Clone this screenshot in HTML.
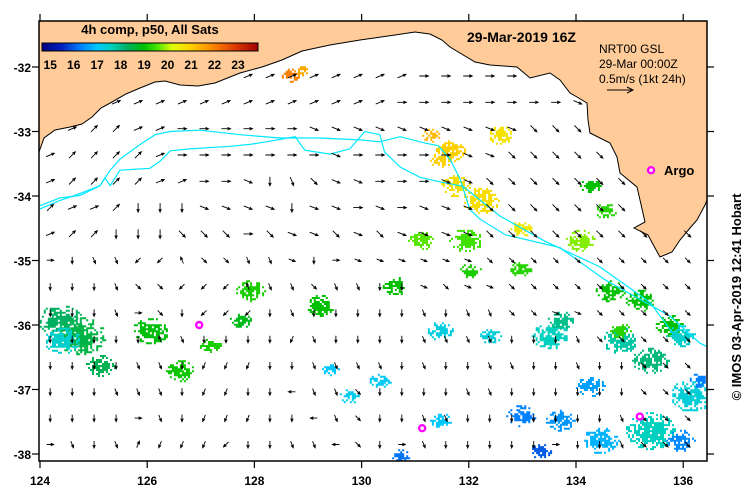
<!DOCTYPE html>
<html><head><meta charset="utf-8"><style>
html,body{margin:0;padding:0;background:#fff;}
svg{display:block;font-family:"Liberation Sans",sans-serif;}
</style></head><body>
<svg id="chart" width="749" height="496" viewBox="0 0 749 496">
<defs><clipPath id="plotclip"><rect x="39" y="21" width="668" height="440"/></clipPath></defs>
<rect x="0" y="0" width="749" height="496" fill="#fff"/>
<g clip-path="url(#plotclip)">
<g id="blobs"></g>
<path id="land" fill="#ffcc99" stroke="#000" stroke-width="1" d="M39,21 L39,152 L44,138 L55,130 L70,127 L82,124 L92,117 L101,108 L112,102 L126,94 L140,88 L155,82 L165,81 L180,85 L198,86 L215,83 L240,73 L262,67 L282,60 L302,51 L330,45 L360,40 L395,35 L415,32 L430,34 L442,40 L450,47 L475,62 L490,65 L517,67 L530,78 L550,73 L560,80 L570,93 L577,97 L587,103 L588,120 L590,133 L610,143 L617,157 L620,173 L637,187 L640,200 L645,222 L634,228 L648,235 L655,248 L660,257 L672,252 L680,240 L690,228 L697,220 L705,205 L707,200 L707,21 Z"/>
<g id="currents"></g>
<g id="arrows"></g>
<g id="markers"></g>
</g>
<rect x="39" y="21" width="668" height="440" fill="none" stroke="#000" stroke-width="1.5"/>
<g id="axes"></g>
<g id="colorbar"></g>
<text x="150" y="34" font-size="13" font-weight="bold" text-anchor="middle">4h comp, p50, All Sats</text>
<text x="467" y="42" font-size="14" font-weight="bold">29-Mar-2019 16Z</text>
<text x="599" y="53" font-size="12">NRT00 GSL</text>
<text x="599" y="68" font-size="12">29-Mar 00:00Z</text>
<text x="599" y="83" font-size="12">0.5m/s (1kt 24h)</text>
<g><line x1="607" y1="90" x2="633" y2="90" stroke="#000" stroke-width="1"/><polyline points="627,87 633,90 627,93" fill="none" stroke="#000"/></g>
<text x="664" y="175" font-size="13" font-weight="bold">Argo</text>
<text transform="translate(741,297) rotate(-90)" font-size="13" font-weight="bold" text-anchor="middle">© IMOS 03-Apr-2019 12:41 Hobart</text>
</svg>
<script>
var xTicks=[124,126,128,130,132,134,136];
var yTicks=[-32,-33,-34,-35,-36,-37,-38];
var cbTicks=[15,16,17,18,19,20,21,22,23];
var blobLon=[128.66,128.85,131.65,131.46,132.58,131.74,132.21,132.96,131.28,134.26,134.54,134.07,131.93,131.09,130.62,132.02,132.96,134.63,135.19,135.75,124.37,124.75,125.12,126.05,126.61,127.17,127.92,129.22,127.73,124.41,131.46,132.40,133.51,133.70,134.82,135.94,135.38,134.26,132.96,133.70,134.45,135.38,136.13,135.94,131.46,129.78,129.41,130.34,130.72,133.33,136.31,134.82];
var blobLat=[-32.12,-32.05,-33.29,-33.44,-33.05,-33.83,-34.06,-34.50,-33.05,-33.83,-34.22,-34.68,-34.68,-34.68,-35.38,-35.15,-35.12,-35.46,-35.61,-36.00,-35.92,-36.16,-36.62,-36.08,-36.70,-36.31,-35.46,-35.69,-35.92,-36.23,-36.08,-36.16,-36.16,-35.92,-36.23,-36.16,-36.54,-36.93,-37.40,-37.47,-37.78,-37.63,-37.09,-37.78,-37.47,-37.09,-36.67,-36.85,-38.02,-37.94,-36.85,-36.08];
var blobSize=[5,4,8,6,7,8,10,6,5,6,6,8,9,7,7,6,6,8,8,8,12,14,8,10,8,6,8,8,6,10,7,6,10,7,10,8,10,8,8,8,10,14,12,8,6,6,5,6,5,6,6,6];
var blobTemp=[22,21.5,21,21,20.7,20.8,20.8,20.6,21.3,19,19.3,19.8,19.5,19.6,19,19.2,19.3,19,19,19,18.3,18.5,18.4,18.9,19.1,19.2,19.2,19,18.8,17.5,17.3,17.4,17.6,18,17.8,17.5,18.1,16.6,16.3,16.5,16.8,17.6,17.4,16.4,17,17.2,17,17.1,16.2,16,16.3,19.3];
var argoLon=[135.40,126.97,131.13,135.19];
var argoLat=[-33.60,-36.00,-37.60,-37.42];
var arrowLon0=124.19, arrowDLon=0.41, arrowLat0=-32.14, arrowDLat=0.408;
var arrowRows=[
"111111111111111110000000000000",
"111111111111111100000000ffffff",
"112211000000ffffffffffeeeeeeee",
"1222210000000f00000ffeeeeeeeee",
"122221100fcdeff000ffeeeeeeeeee",
"2112cccffffcff0f0fffeeeeeeeeee",
"122ccceee0effefeffffeeeeeeeeee",
"0cddaa5eeddfc0ffffffeeeeeeeeee",
"cccdeeaaa5ddeddccfeffeeeeeeeee",
"cccd0ecaaacdcccccdcddeeffeeeee",
"ccccc5dccccbdccccddddcccdeeeee",
"ccccddcbbbccddddcdccddccdcceee",
"cccdddcbbcc8ddeccccddcccccceee",
"cccc0dcbbbcc8deccddcccccccdeee",
"0dcd3bbbaccdd8ec0dccccc0ccdeee"];
var curA=[[124,-34.2],[124.37,-34.07],[124.75,-33.96],[125.12,-33.84],[125.31,-33.6],[125.49,-33.43],[125.87,-33.2],[126.15,-33.05],[126.43,-33.0],[126.99,-32.98],[127.73,-33.05],[128.48,-33.1],[129.22,-33.1],[129.97,-33.13],[130.34,-33.16],[130.72,-33.08],[131.18,-33.18],[131.43,-33.22],[131.65,-33.43],[131.84,-33.74],[132.02,-34.21],[132.21,-34.36],[132.68,-34.6],[133.7,-34.8],[134.54,-35.3],[135.19,-35.6],[135.75,-35.86],[136.31,-36.28],[136.6,-36.4]];
var curB=[[124,-34.15],[124.37,-34.03],[124.75,-33.99],[125.12,-33.84],[125.21,-33.72],[125.31,-33.84],[125.49,-33.6],[126.05,-33.57],[126.24,-33.46],[126.43,-33.3],[126.8,-33.27],[127.54,-33.23],[127.92,-33.2],[128.29,-33.15],[128.76,-33.08],[128.94,-33.29],[129.41,-33.35],[129.78,-33.27],[130.06,-33.0],[130.34,-33.05],[130.43,-33.32],[130.72,-33.55],[131.09,-33.71],[131.46,-33.78],[131.89,-33.85],[132.58,-34.31],[133.42,-34.7],[134.45,-35.1],[135.38,-35.65],[135.8,-36.12]];
var NS='http://www.w3.org/2000/svg';
function X(lon){return 40+(lon-124)*53.6;}
function Y(lat){return 67+(-32-lat)*64.5;}
function mk(tag,attrs,parent){var e=document.createElementNS(NS,tag);for(var k in attrs)e.setAttribute(k,attrs[k]);parent.appendChild(e);return e;}
var stops=[[14.65,[0,0,127]],[15.5,[0,32,192]],[16.3,[0,128,255]],[17,[0,200,255]],[17.6,[0,208,192]],[18.3,[0,176,96]],[19,[0,192,0]],[19.5,[64,224,0]],[20.2,[224,255,0]],[21,[255,208,0]],[21.8,[255,144,0]],[22.8,[224,64,0]],[23.85,[160,0,0]]];
function tcol(t){if(t<=stops[0][0])return 'rgb('+stops[0][1]+')';for(var i=1;i<stops.length;i++){if(t<=stops[i][0]){var a=stops[i-1],b=stops[i],f=(t-a[0])/(b[0]-a[0]);var c=a[1].map(function(v,j){return Math.round(v+(b[1][j]-v)*f);});return 'rgb('+c.join(',')+')';}}return 'rgb('+stops[stops.length-1][1]+')';}
function hsh(a,b,c){var h=(a*374761393+b*668265263+c*2147483647)|0;h=(h^(h>>>13))*1274126177|0;h=h^(h>>>16);return ((h>>>0)%1000)/1000;}
// speckled blobs
var bg=document.getElementById('blobs');
for(var i=0;i<blobLon.length;i++){
 var cx=X(blobLon[i]),cy=Y(blobLat[i]),r=blobSize[i]*1.15;
 var g=mk('g',{},bg);
 
 
 var col=tcol(blobTemp[i]);var d='';
 for(var gx=-Math.ceil(r*1.4/2);gx<=Math.ceil(r*1.4/2);gx++)for(var gy=-Math.ceil(r/2);gy<=Math.ceil(r/2);gy++){
  var px=gx*2,py=gy*2;var q=(px*px)/(r*r*1.9)+(py*py)/(r*r);
  var hv=hsh(i+1,gx+50,gy+50);
  if(q<0.45 ? hv<0.85 : (q<1.3 && hv<0.4)) d+='M'+(cx+px).toFixed(1)+','+(cy+py).toFixed(1)+'h2v2h-2z';
 }
 mk('path',{d:d,fill:col},g);
}
// currents
var cg=document.getElementById('currents');
[curA,curB].forEach(function(c){var d=c.map(function(p,i){return (i?'L':'M')+X(p[0]).toFixed(1)+','+Y(p[1]).toFixed(1);}).join(' ');
 var p=mk('path',{d:d,fill:'none',stroke:'#00e8ff','stroke-width':1.2},cg);
 
 });
// arrows
var land=document.getElementById('land');
var ag=document.getElementById('arrows');
function onLand(x,y){try{var pt=document.getElementById('chart').createSVGPoint();pt.x=x;pt.y=y;return land.isPointInFill(pt);}catch(e){return false;}}
for(var j=0;j<arrowRows.length;j++){var row=arrowRows[j];
 for(var i=0;i<row.length;i++){var ch=row[i];var k=parseInt(ch,16);if(isNaN(k))continue;
  var x=X(arrowLon0+i*arrowDLon),y=Y(arrowLat0-j*arrowDLat);
  if(x>704||onLand(x,y))continue;
  var a=k*22.5*Math.PI/180,L=(j>=7?7:9);var dx=Math.cos(a)*L,dy=-Math.sin(a)*L;
  var x1=x-dx/2,y1=y-dy/2,x2=x+dx/2,y2=y+dy/2;
  var ux=dx/L,uy=dy/L;
  var h1x=x2-ux*3-uy*1.3,h1y=y2-uy*3+ux*1.3,h2x=x2-ux*3+uy*1.3,h2y=y2-uy*3-ux*1.3;
  var p=mk('path',{d:'M'+x1.toFixed(1)+','+y1.toFixed(1)+' L'+x2.toFixed(1)+','+y2.toFixed(1)+' M'+h1x.toFixed(1)+','+h1y.toFixed(1)+' L'+x2.toFixed(1)+','+y2.toFixed(1)+' L'+h2x.toFixed(1)+','+h2y.toFixed(1),fill:'none',stroke:'#000','stroke-width':0.9},ag);
  
  
 }}
// markers
var mg=document.getElementById('markers');
for(var i=0;i<argoLon.length;i++){var c=mk('circle',{cx:X(argoLon[i]),cy:Y(argoLat[i]),r:3,fill:'#fff',stroke:'#ff00ff','stroke-width':2.4},mg);
 
 }
// axes
var ax=document.getElementById('axes');
xTicks.forEach(function(t){var x=X(t);
 mk('line',{x1:x,y1:461,x2:x,y2:468,stroke:'#000','stroke-width':1.2},ax);
 mk('line',{x1:x,y1:14,x2:x,y2:21,stroke:'#000','stroke-width':1.2},ax);
 var tx=mk('text',{x:x,y:485,'font-size':12,'font-weight':'bold','text-anchor':'middle'},ax);tx.textContent=t;
 
 });
yTicks.forEach(function(t){var y=Y(t);
 mk('line',{x1:32,y1:y,x2:39,y2:y,stroke:'#000','stroke-width':1.2},ax);
 mk('line',{x1:707,y1:y,x2:714,y2:y,stroke:'#000','stroke-width':1.2},ax);
 var tx=mk('text',{x:31,y:y+5,'font-size':12,'font-weight':'bold','text-anchor':'end'},ax);tx.textContent=t;
 
 });
// colorbar
var cb=document.getElementById('colorbar');
var cbx0=42,tmin=14.65,tmax=23.85;
for(var i=0;i<216;i+=2){var t=tmin+(i+1)/216*(tmax-tmin);mk('rect',{x:cbx0+i,y:43,width:2.3,height:8,fill:tcol(t)},cb);}
mk('rect',{x:cbx0,y:43,width:216,height:8,fill:'none',stroke:'#000','stroke-width':1},cb);
cbTicks.forEach(function(t){var x=cbx0+(t-tmin)/(tmax-tmin)*216;var tx=mk('text',{x:x,y:69,'font-size':12,'font-weight':'bold','text-anchor':'middle'},cb);tx.textContent=t;
 
 });
</script>
</body></html>
